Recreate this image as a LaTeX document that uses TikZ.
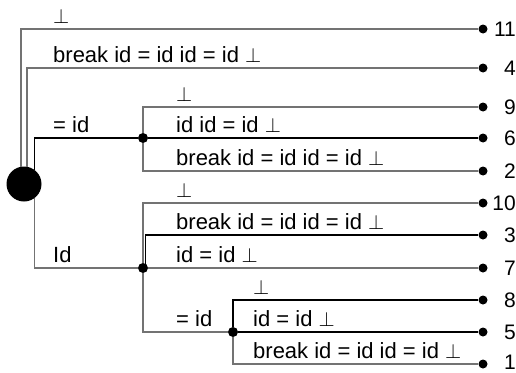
\documentclass[tikz,border=0pt]{standalone}
\usepackage{fontspec}
\setmainfont{Liberation Sans}
\begin{document}
\begin{tikzpicture}[x=1pt,y=-1pt,
  lab/.style={anchor=base west, inner sep=0pt, font=\fontsize{22}{26}\selectfont},
  num/.style={anchor=east, inner sep=0pt, font=\fontsize{21}{25}\selectfont},
  leaf/.style={circle, fill=black, inner sep=0pt, minimum size=9pt},
  br/.style={circle, fill=black, inner sep=0pt, minimum size=10pt},
  rootdot/.style={circle, fill=black, inner sep=0pt, minimum size=35pt},
  gl/.style={draw=black!55, line width=1.3pt},
  bl/.style={draw=black, line width=1.1pt},
]
\useasboundingbox (0,0) rectangle (516,372);
% root and branch points
\node[rootdot] (root) at (24,184) {};
\node[br] (b1) at (143,138) {};
\node[br] (b2) at (143,268) {};
\node[br] (b3) at (233,332) {};
\coordinate (c3) at (145.5,268);
% leaves
\foreach \n/\y in {11/29,4/68,9/107,6/138,2/171,10/203,3/235,7/268,8/300,5/332,1/364}{
  \node[leaf] (l\n) at (483,\y) {};
}
\foreach \n/\y in {11/29,4/68,9/107,6/138,2/171,10/203,3/235,7/268,8/300,5/332,1/362.5}{
  \node[num] (n\n) at (516,\y) {\n};
}
% labels
\node[lab] (t11) at (53,23) {$\perp$};
\node[lab] (t4) at (53,62) {break id = id id = id $\perp$};
\node[lab] (tb1) at (53,132) {= id};
\node[lab] (t9) at (176,101) {$\perp$};
\node[lab] (t6) at (176,132) {id id = id $\perp$};
\node[lab] (t2) at (176,165) {break id = id id = id $\perp$};
\node[lab] (tb2) at (53,262) {Id};
\node[lab] (t10) at (176,197) {$\perp$};
\node[lab] (t3) at (176,229) {break id = id id = id $\perp$};
\node[lab] (t7) at (176,262) {id = id $\perp$};
\node[lab] (tb3) at (176,326) {= id};
\node[lab] (t8) at (253,294) {$\perp$};
\node[lab] (t5) at (253,326) {id = id $\perp$};
\node[lab] (t1) at (253,358) {break id = id id = id $\perp$};
% connectors
\draw[gl] (root.100) |- (l11);
\draw[gl] (root.80) |- (l4);
\draw[bl] (root.54) |- (b1);
\draw[gl] (root.-54) |- (b2);
\draw[gl] (b1) |- (l9);
\draw[bl] (b1) -- (l6);
\draw[gl] (b1) |- (l2);
\draw[gl] (b2) |- (l10);
\draw[bl] (c3) |- (l3);
\draw[gl] (b2) -- (l7);
\draw[gl] (b2) |- (b3);
\draw[bl] (b3) |- (l8);
\draw[bl] (b3) -- (l5);
\draw[gl] (b3) |- (l1);
\end{tikzpicture}
\end{document}
